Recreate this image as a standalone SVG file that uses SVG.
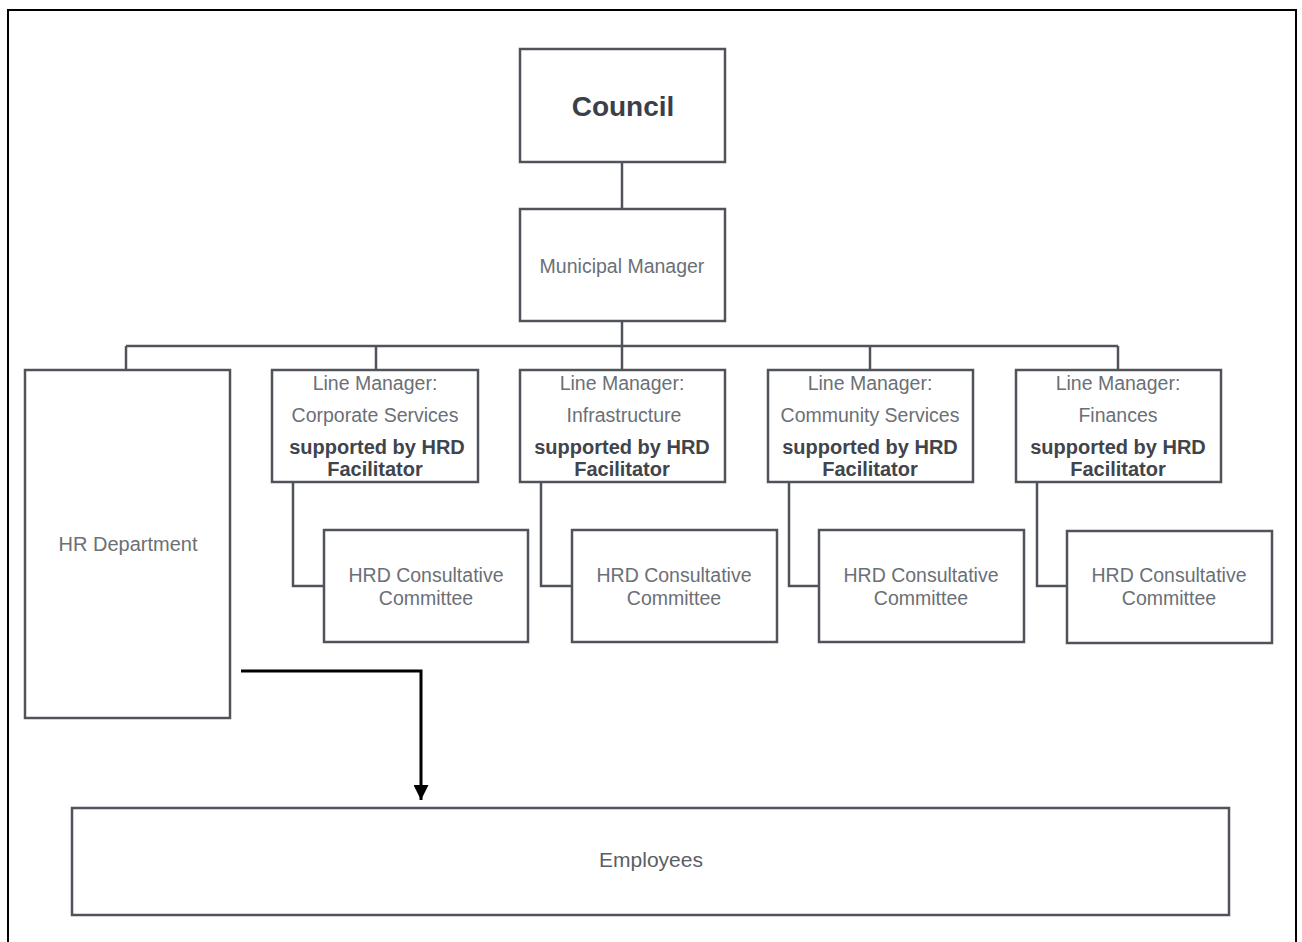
<svg xmlns="http://www.w3.org/2000/svg" width="1302" height="942" viewBox="0 0 1302 942">
  <defs>
    <style>
      .box { fill: #ffffff; stroke: #50545a; stroke-width: 2.5; }
      .wire { fill: none; stroke: #50545a; stroke-width: 2.5; }
      .t { font-family: "Liberation Sans", Arial, sans-serif; text-anchor: middle; fill: #6b6f76; font-size: 19.5px; }
      .b { font-weight: bold; fill: #40444c; font-size: 20px; }
      .flow { fill: none; stroke: #000000; stroke-width: 3; }
    </style>
    <marker id="arrow" markerWidth="5" markerHeight="5" refX="5" refY="2.5" orient="auto" markerUnits="strokeWidth">
      <path d="M0,0 L5,2.5 L0,5 Z" fill="#000000"/>
    </marker>
  </defs>

  <rect x="0" y="0" width="1302" height="942" fill="#ffffff"/>
  <!-- outer frame, open at the bottom -->
  <path d="M8,950 V10 H1296 V950" fill="none" stroke="#000000" stroke-width="2"/>

  <g id="connectors">
    <line class="wire" x1="622" y1="162" x2="622" y2="209"/>
    <line class="wire" x1="622" y1="321" x2="622" y2="346"/>
    <line class="wire" x1="126" y1="346" x2="1118" y2="346"/>
    <line class="wire" x1="126" y1="346" x2="126" y2="370"/>
    <line class="wire" x1="376" y1="346" x2="376" y2="370"/>
    <line class="wire" x1="622" y1="346" x2="622" y2="370"/>
    <line class="wire" x1="870" y1="346" x2="870" y2="370"/>
    <line class="wire" x1="1118" y1="346" x2="1118" y2="370"/>
    <polyline class="wire" points="293,482 293,586 324,586"/>
    <polyline class="wire" points="541,482 541,586 572,586"/>
    <polyline class="wire" points="789,482 789,586 819,586"/>
    <polyline class="wire" points="1037,482 1037,586 1067,586"/>
    <path class="flow" d="M241,671 H421 V800" marker-end="url(#arrow)"/>
  </g>

  <g id="council">
    <rect class="box" x="520" y="49" width="205" height="113"/>
    <text class="t b" x="623" y="116" style="font-size:28px;fill:#3b3f4c">Council</text>
  </g>

  <g id="municipal-manager">
    <rect class="box" x="520" y="209" width="205" height="112"/>
    <text class="t" x="622" y="273">Municipal Manager</text>
  </g>

  <g id="hr-department">
    <rect class="box" x="25" y="370" width="205" height="348"/>
    <text class="t" x="128" y="551" style="font-size:20px">HR Department</text>
  </g>

  <g id="lm-corporate">
    <rect class="box" x="272" y="370" width="206" height="112"/>
    <text class="t" x="375" y="390">Line Manager:</text>
    <text class="t" x="375" y="422">Corporate Services</text>
    <text class="t b" x="377" y="454">supported by HRD</text>
    <text class="t b" x="375" y="476">Facilitator</text>
  </g>

  <g id="lm-infrastructure">
    <rect class="box" x="520" y="370" width="205" height="112"/>
    <text class="t" x="622" y="390">Line Manager:</text>
    <text class="t" x="624" y="422">Infrastructure</text>
    <text class="t b" x="622" y="454">supported by HRD</text>
    <text class="t b" x="622" y="476">Facilitator</text>
  </g>

  <g id="lm-community">
    <rect class="box" x="768" y="370" width="205" height="112"/>
    <text class="t" x="870" y="390">Line Manager:</text>
    <text class="t" x="870" y="422">Community Services</text>
    <text class="t b" x="870" y="454">supported by HRD</text>
    <text class="t b" x="870" y="476">Facilitator</text>
  </g>

  <g id="lm-finances">
    <rect class="box" x="1016" y="370" width="205" height="112"/>
    <text class="t" x="1118" y="390">Line Manager:</text>
    <text class="t" x="1118" y="422">Finances</text>
    <text class="t b" x="1118" y="454">supported by HRD</text>
    <text class="t b" x="1118" y="476">Facilitator</text>
  </g>

  <g id="committee-corporate">
    <rect class="box" x="324" y="530" width="204" height="112"/>
    <text class="t" x="426" y="582">HRD Consultative</text>
    <text class="t" x="426" y="605">Committee</text>
  </g>

  <g id="committee-infrastructure">
    <rect class="box" x="572" y="530" width="205" height="112"/>
    <text class="t" x="674" y="582">HRD Consultative</text>
    <text class="t" x="674" y="605">Committee</text>
  </g>

  <g id="committee-community">
    <rect class="box" x="819" y="530" width="205" height="112"/>
    <text class="t" x="921" y="582">HRD Consultative</text>
    <text class="t" x="921" y="605">Committee</text>
  </g>

  <g id="committee-finances">
    <rect class="box" x="1067" y="531" width="205" height="112"/>
    <text class="t" x="1169" y="582">HRD Consultative</text>
    <text class="t" x="1169" y="605">Committee</text>
  </g>

  <g id="employees">
    <rect class="box" x="72" y="808" width="1157" height="107"/>
    <text class="t" x="651" y="867" style="font-size:21px;fill:#5a5e66">Employees</text>
  </g>
</svg>
